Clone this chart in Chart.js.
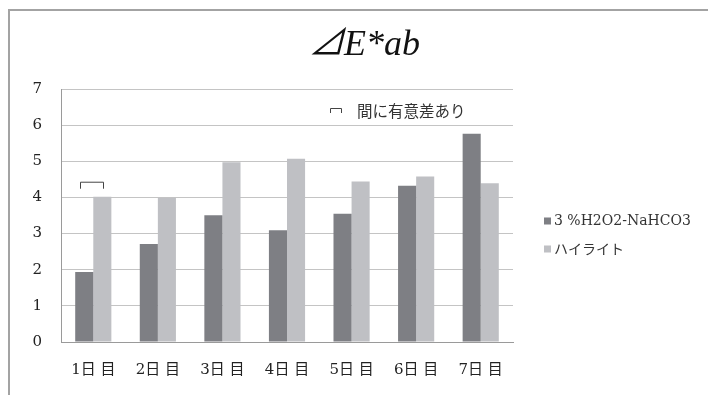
<!DOCTYPE html>
<html>
<head>
<meta charset="utf-8">
<script src="https://cdn.jsdelivr.net/npm/chart.js@4"></script>
<style>
  html, body { margin: 0; padding: 0; background: #fff; }
  #wrap { width: 708px; height: 395px; }
</style>
</head>
<body>
<div id="wrap"><canvas id="deltaChart" width="708" height="395"></canvas></div>
<script>
const days = ['1日 目', '2日 目', '3日 目', '4日 目', '5日 目', '6日 目', '7日 目'];
const h2o2Values = [1.94, 2.71, 3.51, 3.09, 3.55, 4.32, 5.76];
const hiliteValues = [4.02, 3.99, 4.97, 5.07, 4.44, 4.58, 4.39];
const seriesNames = ['3 %H2O2-NaHCO3', 'ハイライト'];
const yTicks = [0, 1, 2, 3, 4, 5, 6, 7];
const sigDays = [0];
const chartTitle = '⊿E*ab';
const sigNote = '間に有意差あり';

const serif = '"DejaVu Serif", "Noto Sans CJK JP", serif';
const jp = '"Noto Sans CJK JP", sans-serif';

// frame, title, legend and the significance marks
const decor = {
    id: 'decor',
    beforeDraw(chart) {
        const ctx = chart.ctx;
        ctx.save();
        ctx.strokeStyle = '#a3a3a3';
        ctx.lineWidth = 2;
        ctx.beginPath();
        ctx.moveTo(9, chart.height);
        ctx.lineTo(9, 10);
        ctx.lineTo(chart.width, 10);
        ctx.stroke();
        ctx.restore();
    },
    afterDraw(chart) {
        const ctx = chart.ctx;
        const y = chart.scales.y;
        ctx.save();

        ctx.fillStyle = '#111';
        ctx.textAlign = 'center';
        ctx.textBaseline = 'middle';
        ctx.font = 'italic 36px "Liberation Serif", "Noto Sans CJK JP", serif';
        ctx.fillText(chartTitle, 364, 46);

        // legend
        ctx.textAlign = 'left';
        chart.data.datasets.forEach((ds, i) => {
            const cy = 221 + i * 28;
            ctx.fillStyle = ds.backgroundColor;
            ctx.fillRect(544, cy - 3.5, 7, 7);
            ctx.fillStyle = '#333';
            ctx.font = (i === 0 ? '14px ' + serif : '14px ' + jp);
            ctx.fillText(ds.label, 554, cy);
        });

        // note for the bracket symbol
        ctx.strokeStyle = '#444';
        ctx.lineWidth = 1;
        ctx.beginPath();
        ctx.moveTo(330.5, 113);
        ctx.lineTo(330.5, 108.5);
        ctx.lineTo(341.5, 108.5);
        ctx.lineTo(341.5, 113);
        ctx.stroke();
        ctx.fillStyle = '#333';
        ctx.font = '15.5px ' + jp;
        ctx.fillText(sigNote, 357, 111);

        // brackets over the days with a significant difference
        sigDays.forEach(d => {
            const a = chart.getDatasetMeta(0).data[d];
            const b = chart.getDatasetMeta(1).data[d];
            const top = y.getPixelForValue(Math.max(h2o2Values[d], hiliteValues[d]));
            ctx.strokeStyle = '#444';
            ctx.beginPath();
            ctx.moveTo(Math.round(a.x - 4) + 0.5, top - 8);
            ctx.lineTo(Math.round(a.x - 4) + 0.5, top - 14.5);
            ctx.lineTo(Math.round(b.x + 1) + 0.5, top - 14.5);
            ctx.lineTo(Math.round(b.x + 1) + 0.5, top - 8);
            ctx.stroke();
        });
        ctx.restore();
    }
};

new Chart(document.getElementById('deltaChart'), {
    type: 'bar',
    data: {
        labels: days,
        datasets: [
            {
                label: seriesNames[0],
                data: h2o2Values,
                backgroundColor: '#7e7f84',
                categoryPercentage: 0.56,
                barPercentage: 1.0,
            },
            {
                label: seriesNames[1],
                data: hiliteValues,
                backgroundColor: '#bfc0c4',
                categoryPercentage: 0.56,
                barPercentage: 1.0,
            }
        ]
    },
    options: {
        responsive: false,
        animation: false,
        devicePixelRatio: 1,
        layout: {
            padding: { top: 89, right: 195, bottom: 0, left: 0 }
        },
        scales: {
            x: {
                grid: { display: false, drawTicks: false },
                border: { display: true, color: '#9a9a9a', width: 1 },
                ticks: {
                    padding: 19,
                    color: '#222',
                    font: { family: serif, size: 15 }
                },
                afterFit(axis) { axis.height = 53; }
            },
            y: {
                min: 0,
                max: 7,
                afterBuildTicks(axis) { axis.ticks = yTicks.map(v => ({ value: v })); },
                grid: { color: '#c4c4c4', drawTicks: false },
                border: { display: true, color: '#9a9a9a', width: 1 },
                ticks: {
                    padding: 19,
                    color: '#222',
                    font: { family: serif, size: 15 }
                },
                afterFit(axis) { axis.width = 61; }
            }
        },
        plugins: {
            legend: { display: false },
            title: { display: false },
            tooltip: { enabled: false }
        }
    },
    plugins: [decor]
});
</script>
</body>
</html>
